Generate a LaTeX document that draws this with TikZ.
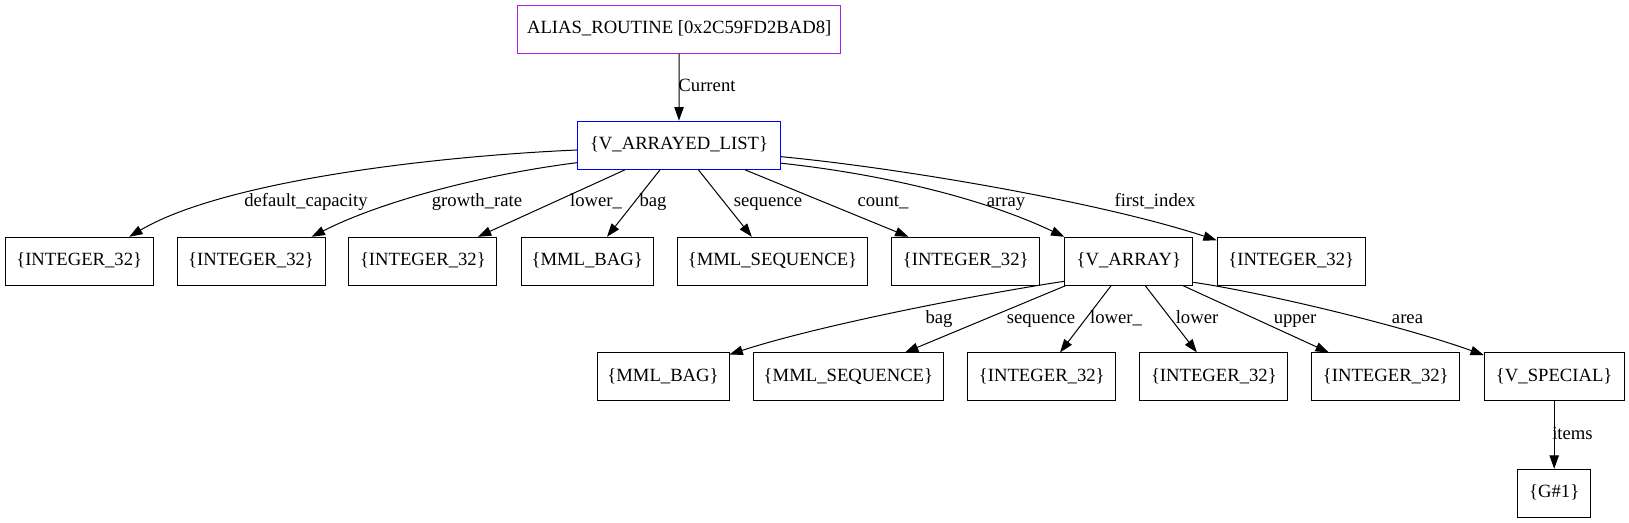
\documentclass[tikz,border=0pt]{standalone}
\usepackage{fontspec}
\setmainfont{Liberation Serif}
\usetikzlibrary{arrows.meta,calc}
\definecolor{gvpurple}{RGB}{160,32,240}
\begin{document}
\begin{tikzpicture}[x=0.75pt,y=-0.75pt,
  every node/.append style={font=\fontsize{14pt}{16pt}\selectfont},
  box/.style={draw, rectangle, inner sep=0pt, minimum height=36pt, line width=0.75pt, text height=9.8pt, text depth=3.2pt},
  intbox/.style={box, minimum width=111pt},
  lbl/.style={inner sep=0pt, text height=9.5pt, text depth=3pt},
  conn/.style={line width=0.75pt, -{Triangle[length=10pt,width=7pt]}}
]
\useasboundingbox (0,0) rectangle (1629,523);
% nodes
\node[box, draw=gvpurple, minimum width=242.25pt, minimum height=36.2pt] (alias) at (679.2,29.2) {ALIAS\_ROUTINE [0x2C59FD2BAD8]};
\node[box, draw=blue, minimum width=152.5pt, minimum height=36.2pt] (varl) at (679,145.2) {\{V\_ARRAYED\_LIST\}};
% row 1
\node[intbox] (i1) at (79.2,261.3) {\{INTEGER\_32\}};
\node[intbox] (i2) at (251,261.3) {\{INTEGER\_32\}};
\node[intbox] (i3) at (422.9,261.3) {\{INTEGER\_32\}};
\node[box, minimum width=99pt] (bag1) at (587.2,261.3) {\{MML\_BAG\}};
\node[box, minimum width=142.7pt] (seq1) at (772.5,261.3) {\{MML\_SEQUENCE\}};
\node[intbox] (i4) at (965.7,261.3) {\{INTEGER\_32\}};
\node[box, minimum width=96pt] (varr) at (1128.8,261.3) {\{V\_ARRAY\}};
\node[intbox] (i5) at (1291.2,261.3) {\{INTEGER\_32\}};
% row 2
\node[box, minimum width=99pt] (bag2) at (663,377) {\{MML\_BAG\}};
\node[box, minimum width=142.7pt] (seq2) at (848.4,377) {\{MML\_SEQUENCE\}};
\node[intbox] (i6) at (1041.8,377) {\{INTEGER\_32\}};
\node[intbox] (i7) at (1213.9,377) {\{INTEGER\_32\}};
\node[intbox] (i8) at (1385.8,377) {\{INTEGER\_32\}};
\node[box, minimum width=104.8pt] (vsp) at (1554.2,377) {\{V\_SPECIAL\}};
\node[box, minimum width=54.75pt] (g1) at (1554.2,493.3) {\{G\#1\}};
% edges
\draw[conn] (alias.south) -- (varl.north);
\draw[conn] ($(varl.west)+(0,4.8)$) .. controls (420,157) and (220,183) .. ($(i1.north)+(50,0)$);
\draw[conn] ($(varl.west)+(0,17.5)$) .. controls (480,175) and (380,202) .. ($(i2.north)+(60.6,0)$);
\draw[conn] ($(varl.south)+(-54,0)$) -- ($(i3.north)+(55,0)$);
\draw[conn] ($(varl.south)+(-19,0)$) -- ($(bag1.north)+(19.8,0)$);
\draw[conn] ($(varl.south)+(19.4,0)$) -- ($(seq1.north)+(-20.7,0)$);
\draw[conn] ($(varl.south)+(66,0)$) -- ($(i4.north)+(-57.2,0)$);
\draw[conn] ($(varl.east)+(0,18)$) .. controls (880,174) and (980,197) .. (varr.north west);
\draw[conn] ($(varl.east)+(0,11.5)$) .. controls (900,168) and (1100,202) .. ($(i5.north west)+(0,3.5)$);
\draw[conn] ($(varr.west)+(0,20)$) .. controls (980,294) and (820,325) .. ($(bag2.north east)+(0,2)$);
\draw[conn] ($(varr.south west)+(1,0)$) -- ($(seq2.north)+(56.6,0)$);
\draw[conn] ($(varr.south)+(-17.8,0)$) -- ($(i6.north)+(18.2,0)$);
\draw[conn] ($(varr.south)+(16.5,0)$) -- ($(i7.north)+(-17,0)$);
\draw[conn] ($(varr.south)+(54.5,0)$) -- ($(i8.north)+(-57,0)$);
\draw[conn] ($(varr.east)+(0,21)$) .. controls (1260,292) and (1400,325) .. ($(vsp.north west)+(0,2.6)$);
\draw[conn] (vsp.south) -- (g1.north);
% labels
\node[lbl] (lcur) at (707,87) {Current};
\node[lbl] (ldef) at (306,202.3) {default\_capacity};
\node[lbl] (lgro) at (477,202.3) {growth\_rate};
\node[lbl] (llo1) at (596,202.3) {lower\_};
\node[lbl] (lbag1) at (653,202.3) {bag};
\node[lbl] (lseq1) at (768,202.3) {sequence};
\node[lbl] (lcnt) at (883,202.3) {count\_};
\node[lbl] (larr) at (1006,202.3) {array};
\node[lbl] (lfst) at (1155,202.3) {first\_index};
\node[lbl] (lbag2) at (939,318.7) {bag};
\node[lbl] (lseq2) at (1041,318.7) {sequence};
\node[lbl] (llo2) at (1116,318.7) {lower\_};
\node[lbl] (llow) at (1197,318.7) {lower};
\node[lbl] (lupp) at (1295,318.7) {upper};
\node[lbl] (lare) at (1407.5,318.7) {area};
\node[lbl] (litm) at (1572.5,435) {items};
\end{tikzpicture}
\end{document}
